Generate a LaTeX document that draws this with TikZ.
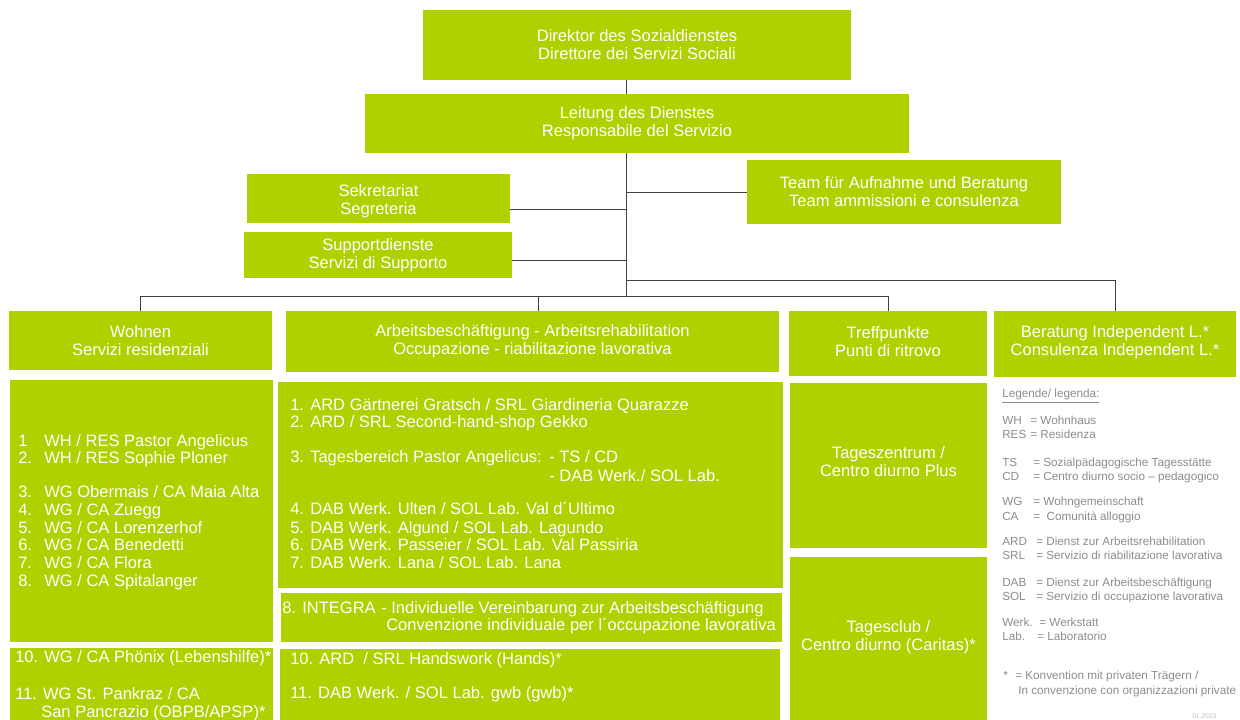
\documentclass[tikz,border=0pt]{standalone}
\usepackage{fontspec}
\setmainfont{Liberation Sans}
\usetikzlibrary{fit}
\definecolor{grn}{HTML}{B0D000}
\definecolor{lgd}{HTML}{8C8C8C}
\newcommand\tline[4]{\node[txt] (#1) at (#2,#3) {#4};}
\newcommand\lgline[4]{\node[lg] (#1) at (#2,#3) {#4};}
\begin{document}
\begin{tikzpicture}[x=0.75pt,y=-0.75pt,
  box/.style={fill=grn, draw=none, inner sep=0pt},
  btxt/.style={inner sep=0pt, align=center, text=white,
    font=\fontsize{12.4}{13.5}\selectfont},
  txt/.style={text=white, inner sep=0pt, anchor=base west,
    font=\fontsize{12.4}{13.5}\selectfont},
  lg/.style={text=lgd, inner sep=0pt, anchor=base west,
    font=\fontsize{8.8}{10}\selectfont},
  con/.style={draw=black!75, line width=0.6pt}]
\useasboundingbox (0,0) rectangle (1240,720);

% top boxes
\node[box, fit={(423,10) (851,80)}] (dir) {};
\node[box, fit={(365,94) (909,153)}] (lei) {};
\node[box, fit={(247,174) (510,223)}] (sek) {};
\node[box, fit={(244,232) (512,278)}] (sup) {};
\node[box, fit={(747,160) (1061,224)}] (team) {};
\node[btxt] (dirT) at ([yshift=0.5]dir.center) {Direktor des Sozialdienstes\\Direttore dei Servizi Sociali};
\node[btxt] (leiT) at (lei.center) {Leitung des Dienstes\\Responsabile del Servizio};
\node[btxt] (sekT) at ([yshift=-2]sek.center) {Sekretariat\\Segreteria};
\node[btxt] (supT) at (sup.center) {Supportdienste\\Servizi di Supporto};
\node[btxt] (teamT) at (team.center) {Team für Aufnahme und Beratung\\Team ammissioni e consulenza};

% headers
\node[box, fit={(9,311) (272,370)}] (won) {};
\node[box, fit={(286,311) (779,372)}] (arb) {};
\node[box, fit={(789,311) (987,376)}] (tre) {};
\node[box, fit={(994,311) (1236,377)}] (ber) {};
\node[btxt] (wonT) at (won.center) {Wohnen\\Servizi residenziali};
\node[btxt] (arbT) at (arb.center) {Arbeitsbeschäftigung - Arbeitsrehabilitation\\Occupazione - riabilitazione lavorativa};
\node[btxt] (treT) at ([yshift=1.5]tre.center) {Treffpunkte\\Punti di ritrovo};
\node[btxt] (berT) at ([yshift=1.5]ber.center) {Beratung Independent L.*\\Consulenza Independent L.*};

% content boxes
\node[box, fit={(10,380) (273,642)}] (wl) {};
\node[box, fit={(10,648) (273,720)}] (wb) {};
\node[box, fit={(278,382) (783,588)}] (al) {};
\node[box, fit={(281,593) (782,642)}] (ai) {};
\node[box, fit={(280,649) (780,720)}] (ab) {};
\node[box, fit={(790,383) (987,548)}] (tz) {};
\node[box, fit={(790,557) (987,720)}] (tc) {};
\node[btxt] (tzT) at ([yshift=3]tz.center) {Tageszentrum /\\Centro diurno Plus};
\node[btxt] (tcT) at ([yshift=1]tc.center) {Tagesclub /\\Centro diurno (Caritas)*};

% connectors
\coordinate (tk) at (626,0);
\coordinate (jb) at (626,296);
\coordinate (jr) at (626,280);
\coordinate (js) at (626,209);
\coordinate (ju) at (626,260);
\coordinate (jt) at (626,192);
\draw[con] (dir.south -| tk) -- (lei.north -| tk);
\draw[con] (lei.south -| tk) -- (jb);
\draw[con] (sek.east |- js) -- (js);
\draw[con] (sup.east |- ju) -- (ju);
\draw[con] (jt) -- (team.west |- jt);
\draw[con] (jr) -| (ber.north);
\draw[con] (won.north) |- (tre.north |- jb) -- (tre.north);
\draw[con] (arb.north -| 538,0) -- (538,296);

% Wohnen list
\tline{w1}{18}{447}{\makebox[19.5pt][l]{1}WH / RES Pastor Angelicus}
\tline{w2}{18}{464}{\makebox[19.5pt][l]{2.}WH / RES Sophie Ploner}
\tline{w3}{18}{498}{\makebox[19.5pt][l]{3.}WG Obermais / CA Maia Alta}
\tline{w4}{18}{516}{\makebox[19.5pt][l]{4.}WG / CA Zuegg}
\tline{w5}{18}{533}{\makebox[19.5pt][l]{5.}WG / CA Lorenzerhof}
\tline{w6}{18}{551}{\makebox[19.5pt][l]{6.}WG / CA Benedetti}
\tline{w7}{18}{568}{\makebox[19.5pt][l]{7.}WG / CA Flora}
\tline{w8}{18}{586}{\makebox[19.5pt][l]{8.}WG / CA Spitalanger}
\tline{w10}{15}{662}{10. WG / CA Phönix (Lebenshilfe)*}
\tline{w11}{15}{699}{11. WG St. Pankraz / CA}
\tline{w11b}{41}{717}{San Pancrazio (OBPB/APSP)*}

% Arbeit list
\tline{a1}{290}{411}{\makebox[15pt][l]{1.}ARD Gärtnerei Gratsch / SRL Giardineria Quarazze}
\tline{a2}{290}{428}{\makebox[15pt][l]{2.}ARD / SRL Second-hand-shop Gekko}
\tline{a3}{290}{463}{\makebox[15pt][l]{3.}Tagesbereich Pastor Angelicus:}
\tline{a3b}{549}{463}{- TS / CD}
\tline{a3c}{549}{481}{- DAB Werk./ SOL Lab.}
\tline{a4}{290}{514}{\makebox[15pt][l]{4.}DAB Werk. Ulten / SOL Lab. Val d´Ultimo}
\tline{a5}{290}{533}{\makebox[15pt][l]{5.}DAB Werk. Algund / SOL Lab. Lagundo}
\tline{a6}{290}{550}{\makebox[15pt][l]{6.}DAB Werk. Passeier / SOL Lab. Val Passiria}
\tline{a7}{290}{568}{\makebox[15pt][l]{7.}DAB Werk. Lana / SOL Lab. Lana}
\tline{a8}{282}{613}{8.}
\tline{a8b}{302}{613}{INTEGRA}
\tline{a8c}{381}{613}{- Individuelle Vereinbarung zur Arbeitsbeschäftigung}
\tline{a8d}{386}{630}{Convenzione individuale per l´occupazione lavorativa}
\tline{a10}{290}{664}{10. ARD \ / SRL Handswork (Hands)*}
\tline{a11}{290}{698}{11. DAB Werk. / SOL Lab. gwb (gwb)*}

% legend
\lgline{lt}{1002}{398}{\underline{Legende/ legenda:}}
\lgline{l1a}{1002}{425}{WH}   \lgline{l1b}{1030}{425}{= Wohnhaus}
\lgline{l2a}{1002}{439}{RES}  \lgline{l2b}{1030}{439}{= Residenza}
\lgline{l3a}{1002}{466}{TS}   \lgline{l3b}{1033}{466}{= Sozialpädagogische Tagesstätte}
\lgline{l4a}{1002}{480}{CD}   \lgline{l4b}{1033}{480}{= Centro diurno socio – pedagogico}
\lgline{l5a}{1002}{506}{WG}   \lgline{l5b}{1033}{506}{= Wohngemeinschaft}
\lgline{l6a}{1002}{521}{CA}   \lgline{l6b}{1033}{521}{= \ Comunità alloggio}
\lgline{l7a}{1002}{545}{ARD}  \lgline{l7b}{1036}{545}{= Dienst zur Arbeitsrehabilitation}
\lgline{l8a}{1002}{559}{SRL}  \lgline{l8b}{1036}{559}{= Servizio di riabilitazione lavorativa}
\lgline{l9a}{1002}{586}{DAB}  \lgline{l9b}{1036}{586}{= Dienst zur Arbeitsbeschäftigung}
\lgline{l10a}{1002}{600}{SOL} \lgline{l10b}{1036}{600}{= Servizio di occupazione lavorativa}
\lgline{l11a}{1002}{626}{Werk.} \lgline{l11b}{1039}{626}{= Werkstatt}
\lgline{l12a}{1002}{640}{Lab.}  \lgline{l12b}{1037}{640}{= Laboratorio}
\lgline{l13a}{1003}{679}{*}   \lgline{l13b}{1015}{679}{= Konvention mit privaten Trägern /}
\lgline{l14}{1018}{694}{In convenzione con organizzazioni private}
\node[text=black!25, inner sep=0pt, anchor=base west, font=\fontsize{5}{6}\selectfont] (date) at (1192,718) {01.2023};
\end{tikzpicture}
\end{document}
